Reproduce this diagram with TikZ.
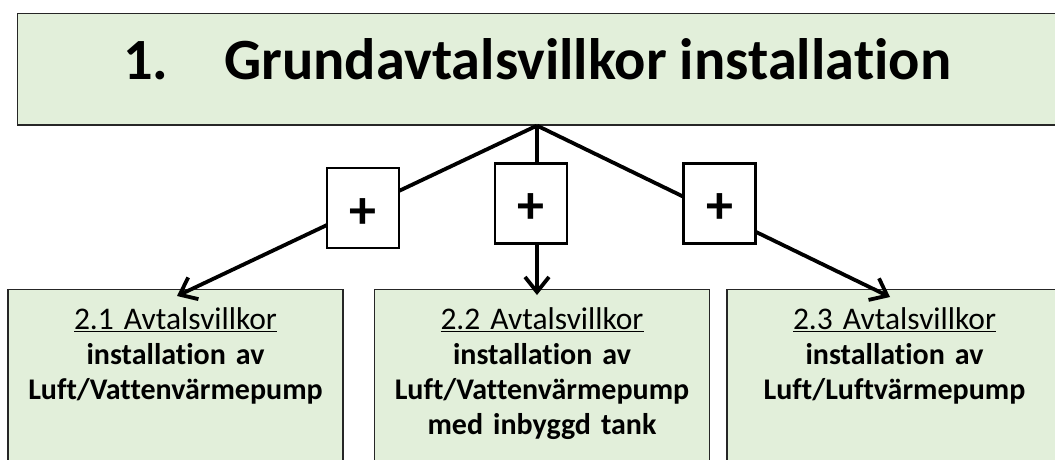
\documentclass[tikz,border=0pt]{standalone}
\usepackage{fontspec}
\setmainfont{Carlito}[Ligatures=NoCommon]
\usetikzlibrary{arrows.meta,calc}
\definecolor{boxgreen}{HTML}{E2EFDA}

\begin{document}
\begin{tikzpicture}[x=1pt,y=-1pt,
  greenbox/.style={draw=black!85,line width=1.2pt,fill=boxgreen,inner sep=0pt},
  subbox/.style={greenbox,anchor=north,text width=335pt,align=center,inner ysep=18pt,
    text depth=130pt,font=\fontsize{30}{35}\selectfont},
  plusbox/.style={draw,line width=2.3pt,fill=white,minimum width=72pt,minimum height=80pt,
    inner sep=0pt,text height=40pt,text depth=0pt,font=\fontsize{54}{54}\selectfont\bfseries},
  link/.style={line width=3.8pt,-{Straight Barb[length=15pt,width=24pt]}}]
\useasboundingbox (0,0) rectangle (1055,459);
\clip (0,0) rectangle (1055,459);

% Rubrik
\node[greenbox,minimum width=1039pt,minimum height=111.5pt,text height=40pt,text depth=20.5pt,
  font=\fontsize{58.4}{60}\selectfont\bfseries] (top) at (537,69.25)
  {1.\hspace{56pt}Grundavtalsvillkor installation};

% Avtalsvillkor
\node[subbox] (b1) at (175.5,289) {{\fontsize{31.5}{35}\selectfont\underline{2.1 Avtalsvillkor}}\\ \textbf{installation av}\\ \textbf{Luft/Vattenvärmepump}};
\node[subbox] (b2) at (542,289) {{\fontsize{31.5}{35}\selectfont\underline{2.2 Avtalsvillkor}}\\ \textbf{installation av}\\ \textbf{Luft/Vattenvärmepump}\\ \textbf{med inbyggd tank}};
\node[subbox] (b3) at (894.5,289) {{\fontsize{31.5}{35}\selectfont\underline{2.3 Avtalsvillkor}}\\ \textbf{installation av}\\ \textbf{Luft/Luftvärmepump}};

\coordinate (apex) at (top.south);
\draw[link] (apex) -- ([xshift=1.5pt,yshift=-7pt]b1.north);
\draw[link] (apex) -- ([xshift=-5pt,yshift=-6pt]b2.north);
\draw[link] (apex) -- ([xshift=-4.5pt,yshift=-8pt]b3.north);

% plus
\node[plusbox] (p1) at (363,208) {+};
\node[plusbox] (p2) at (531,203.5) {+};
\node[plusbox] (p3) at (719.5,203.5) {+};
\end{tikzpicture}
\end{document}
